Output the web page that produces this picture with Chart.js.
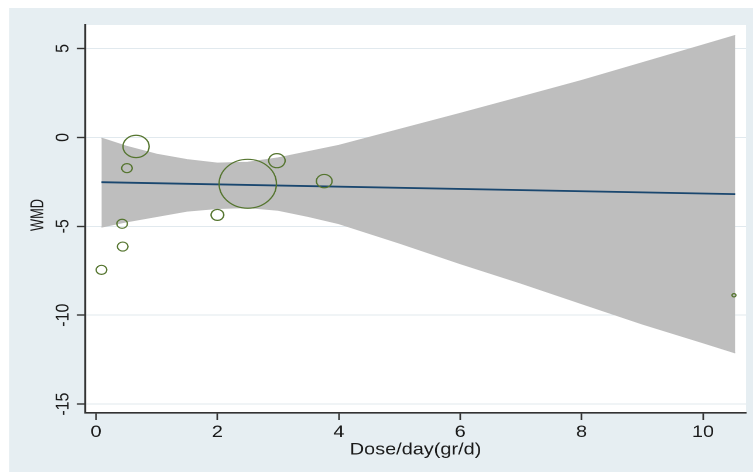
<!DOCTYPE html>
<html>
<head>
<meta charset="utf-8">
<script src="https://cdn.jsdelivr.net/npm/chart.js@4.4.0/dist/chart.umd.min.js"></script>
<style>
  body { margin: 0; background: #fff; }
</style>
</head>
<body>
<!-- drawn at Stata's 5.5x4 proportions, shown wider -->
<canvas id="plot" width="643" height="472" style="display:block;width:753px;height:472px"></canvas>
<script>
// one entry per study: dose per day, WMD and its weight in the regression
const doses = [0.09, 0.43, 0.44, 0.51, 0.66, 2.0, 2.5, 2.98, 3.76, 10.51];
const wmd = [-7.45, -4.86, -6.14, -1.73, -0.51, -4.36, -2.61, -1.31, -2.46, -8.88];
const weights = [2.2, 2.2, 2.2, 2.2, 13.4, 3.2, 64.3, 5.3, 4.8, 0.3];

// fitted line and its confidence band
const fitX = [0.09, 10.53];
const fitY = [-2.52, -3.19];
const bandX = [0.09, 0.5, 1.0, 1.5, 2.0, 2.5, 3.0, 3.5, 4.0, 5.0, 6.0, 7.0, 8.0, 9.0, 10.0, 10.53];
const bandUpper = [-0.04, -0.5, -0.95, -1.25, -1.45, -1.4, -1.15, -0.8, -0.45, 0.45, 1.35, 2.27, 3.2, 4.2, 5.2, 5.73];
const bandLower = [-5.05, -4.75, -4.45, -4.15, -4.0, -3.95, -4.1, -4.45, -4.85, -5.95, -7.1, -8.2, -9.35, -10.5, -11.55, -12.12];

const xTicks = [0, 2, 4, 6, 8, 10];
const yTicks = [-15, -10, -5, 0, 5];

const FONT = '"Liberation Sans", Arial, Helvetica, sans-serif';
const INK = '#1a1a1a';

const toPoints = (xs, ys) => xs.map((x, i) => ({ x: x, y: ys[i] }));

// graph region and white plot region
const frame = {
    id: 'frame',
    beforeDraw(chart) {
        const { ctx, chartArea: a, width, height } = chart;
        ctx.save();
        ctx.fillStyle = '#ffffff';
        ctx.fillRect(0, 0, width, height);
        ctx.fillStyle = '#e6eef2';
        ctx.fillRect(7.7, 8, width - 7.7, height - 8);
        ctx.fillStyle = '#ffffff';
        ctx.fillRect(a.left, a.top, a.right - a.left, a.bottom - a.top);
        ctx.restore();
    }
};

// y tick labels and title, turned to read upwards
const yLabels = {
    id: 'yLabels',
    afterDraw(chart) {
        const { ctx } = chart;
        const y = chart.scales.y;
        ctx.save();
        ctx.fillStyle = INK;
        ctx.font = '16px ' + FONT;
        ctx.textAlign = 'center';
        ctx.textBaseline = 'alphabetic';
        y.ticks.forEach(t => {
            ctx.save();
            ctx.translate(58.5, y.getPixelForValue(t.value));
            ctx.rotate(-Math.PI / 2);
            ctx.fillText(String(t.value), 0, 0);
            ctx.restore();
        });
        ctx.translate(32.5, 215);
        ctx.rotate(-Math.PI / 2);
        ctx.scale(0.8, 1);
        ctx.textBaseline = 'middle';
        ctx.fillText('WMD', 0, 0);
        ctx.restore();
    }
};

new Chart(document.getElementById('plot'), {
    type: 'scatter',
    data: {
        datasets: [{
            label: 'Studies',
            data: toPoints(doses, wmd),
            pointRadius: ctx => 3.05 * Math.sqrt(weights[ctx.dataIndex]),
            pointBackgroundColor: 'rgba(0,0,0,0)',
            pointBorderColor: '#55752f',
            pointBorderWidth: 1.2,
            order: 0
        }, {
            label: 'Fitted values',
            data: toPoints(fitX, fitY),
            showLine: true,
            borderColor: '#1a476f',
            borderWidth: 1.8,
            pointRadius: 0,
            order: 1
        }, {
            label: 'Upper limit',
            data: toPoints(bandX, bandUpper),
            showLine: true,
            borderColor: '#bebebe',
            borderWidth: 1,
            backgroundColor: '#bebebe',
            fill: '+1',
            pointRadius: 0,
            order: 2
        }, {
            label: 'Lower limit',
            data: toPoints(bandX, bandLower),
            showLine: true,
            borderColor: '#bebebe',
            borderWidth: 1,
            pointRadius: 0,
            order: 3
        }]
    },
    options: {
        responsive: false,
        devicePixelRatio: 2,
        animation: false,
        events: [],
        // big bubbles must not push the plot region in
        layout: { autoPadding: false, padding: { top: 25, right: 6, left: 0, bottom: 0 } },
        plugins: {
            legend: { display: false },
            tooltip: { enabled: false }
        },
        scales: {
            x: {
                type: 'linear',
                min: -0.181,
                max: 10.708,
                afterBuildTicks: s => { s.ticks = xTicks.map(v => ({ value: v })); },
                afterFit: s => { s.height = 59; },
                grid: { drawOnChartArea: false, drawTicks: true, tickLength: 7, tickColor: '#333', tickWidth: 1.4 },
                border: { display: true, color: '#333', width: 1.6 },
                ticks: { color: INK, font: { family: FONT, size: 17 }, padding: 2, maxRotation: 0 },
                title: {
                    display: true,
                    text: 'Dose/day(gr/d)',
                    color: INK,
                    font: { family: FONT, size: 17 },
                    padding: { top: 0, bottom: 12 }
                }
            },
            y: {
                type: 'linear',
                min: -15.5,
                max: 6.32,
                afterBuildTicks: s => { s.ticks = yTicks.map(v => ({ value: v })); },
                afterFit: s => { s.width = 72.6; },
                grid: { color: '#e1e9ee', lineWidth: 1, drawTicks: true, tickLength: 7, tickColor: '#333', tickWidth: 1.4 },
                border: { display: true, color: '#333', width: 1.6 },
                ticks: { display: false }
            }
        }
    },
    plugins: [frame, yLabels]
});
</script>
</body>
</html>
